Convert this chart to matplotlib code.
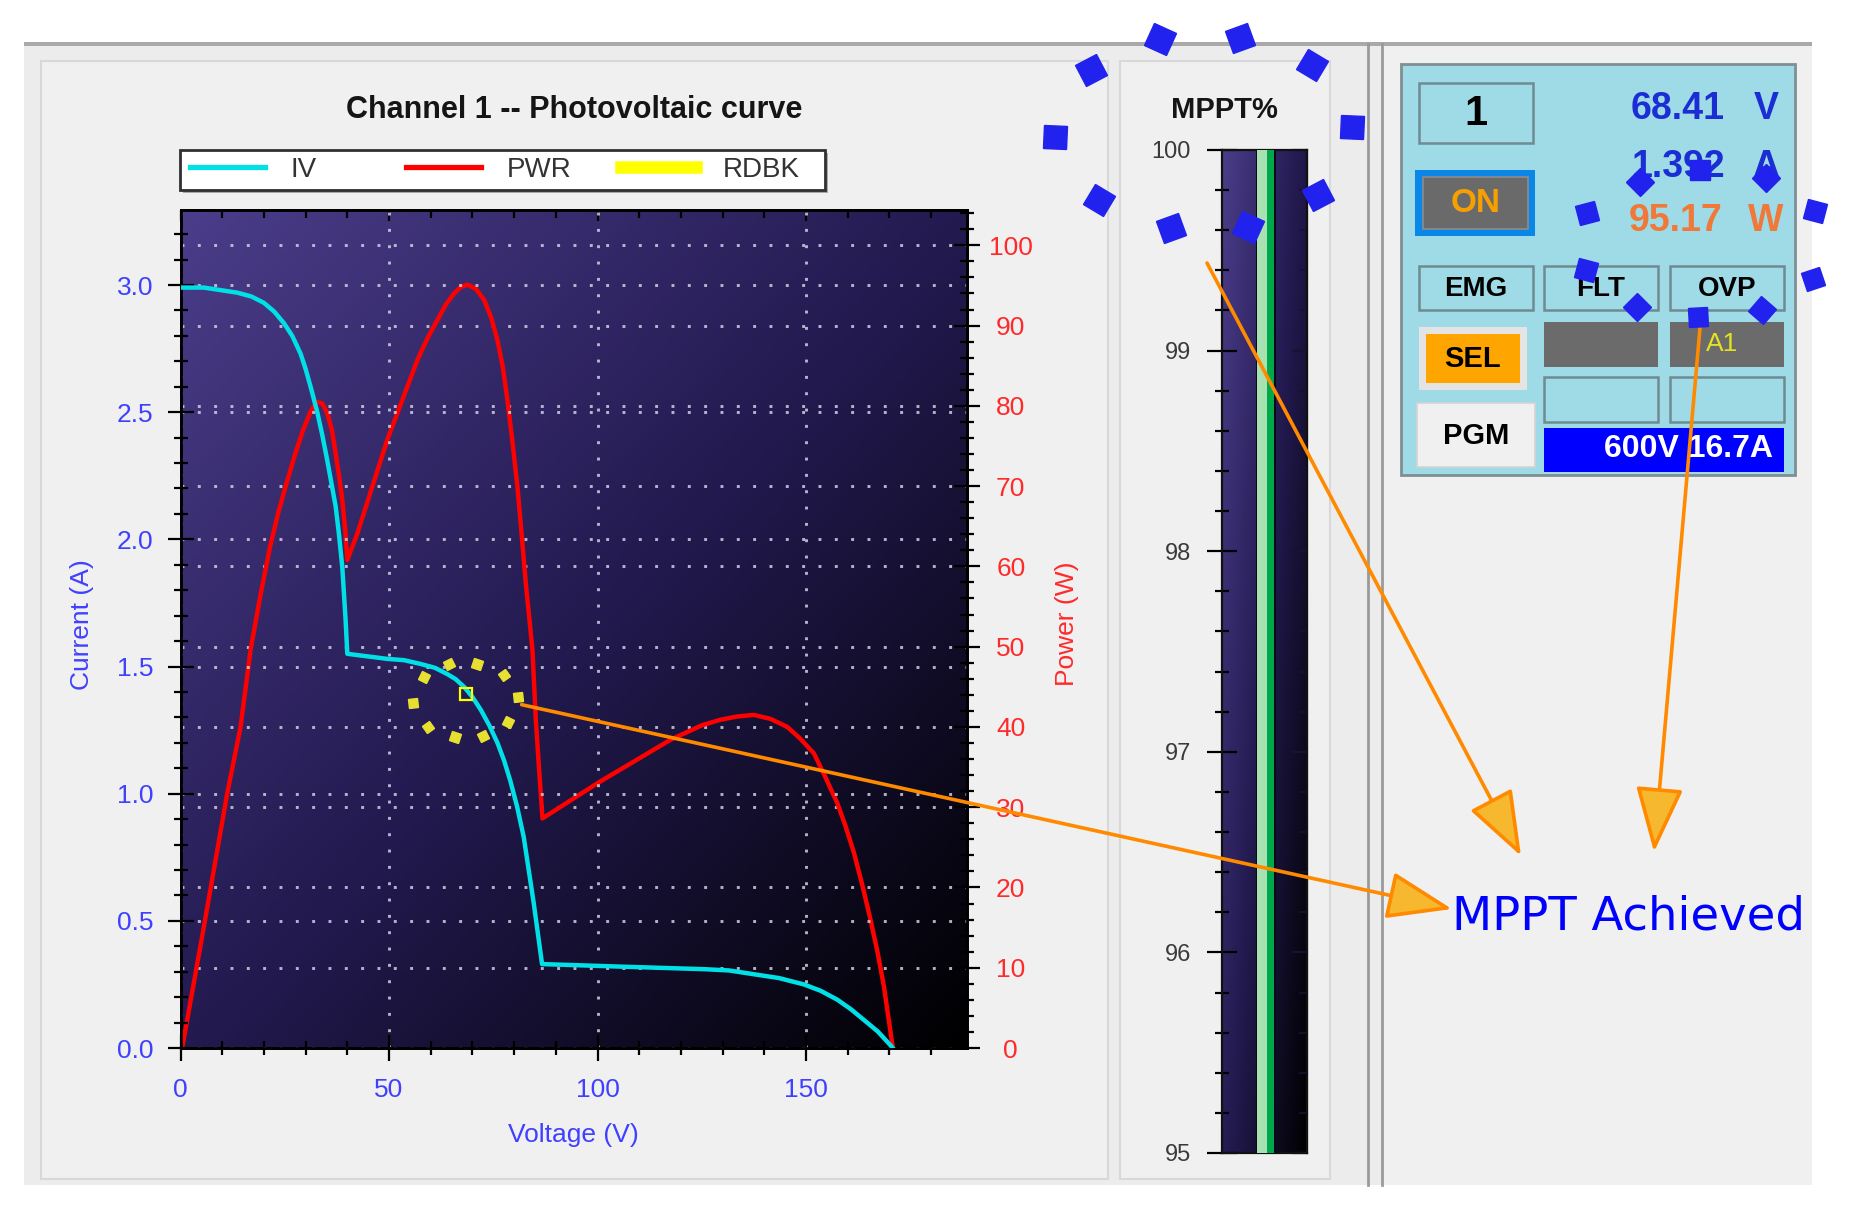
import numpy as np
import matplotlib
matplotlib.use("Agg")
import matplotlib.pyplot as plt
from matplotlib.colors import LinearSegmentedColormap
from matplotlib.lines import Line2D
from matplotlib.patches import Rectangle
from matplotlib.markers import MarkerStyle
from matplotlib.transforms import Affine2D
from matplotlib.ticker import MultipleLocator, FormatStrFormatter

plt.rcParams['font.family'] = ['Liberation Sans', 'DejaVu Sans']

W, H = 1855, 1222

# values
iv_v = [0, 5.6, 13.6, 17.0, 20.0, 22.5, 24.8, 26.8, 28.8, 30.0, 31.2, 32.8, 34.0,
        35.2, 36.2, 37.2, 38.0, 38.8, 39.6, 40.0,
        49.6, 53.6, 57.6, 61.0, 64.0, 66.0, 68.0, 70.0, 72.0, 74.0, 76.0, 77.6,
        79.1, 80.7, 82.3, 83.5, 84.7, 85.7, 86.7,
        105.5, 125.5, 131.5, 137.5, 143.5, 149.5, 153.5, 157.5, 160.8, 163.9,
        167.2, 170.3, 170.8]
iv_i = [2.99, 2.99, 2.97, 2.955, 2.93, 2.895, 2.85, 2.80, 2.73, 2.67, 2.60, 2.50, 2.41,
        2.31, 2.22, 2.13, 2.02, 1.89, 1.68, 1.55,
        1.53, 1.525, 1.51, 1.495, 1.47, 1.45, 1.42, 1.38, 1.33, 1.27, 1.20, 1.13,
        1.05, 0.95, 0.83, 0.70, 0.57, 0.45, 0.33,
        0.32, 0.31, 0.305, 0.29, 0.275, 0.25, 0.225, 0.19, 0.152, 0.11,
        0.065, 0.01, 0.0]

pwr_v = [0.4, 5.6, 11.2, 14.4, 16.8, 19.2, 21.5, 23.5, 25.5, 27.5, 29.4, 31.2, 32.7,
         34.0, 35.2, 36.3, 37.2, 38.1, 38.8, 39.5, 40.0,
         42.4, 49.6, 56.8, 59.2, 61.6, 63.6, 65.6, 67.2, 68.8, 70.8, 72.8, 74.5,
         76.0, 77.3, 78.4, 79.6, 80.8, 81.8, 82.8, 84.4, 85.2, 86.0, 86.8,
         100.0, 117.5, 125.0, 129.5, 133.5, 137.5, 141.5, 145.5, 148.5, 151.9,
         154.5, 157.5, 159.5, 161.5, 163.5, 165.5, 167.2, 168.7, 170.7]
pwr_p = [0, 15.1, 31.7, 40.0, 49.6, 56.5, 62.5, 66.8, 70.5, 74.0, 77.0, 79.3, 80.5,
         80.3, 79.1, 77.0, 74.1, 71.0, 68.3, 64.5, 60.8,
         64.1, 75.8, 85.7, 88.4, 90.7, 92.6, 94.0, 94.8, 95.1, 94.6, 93.2, 91.0,
         88.2, 84.8, 80.7, 75.5, 69.9, 64.0, 57.9, 49.6, 40.9, 34.6, 28.6,
         33.0, 38.4, 40.2, 40.9, 41.3, 41.5, 41.0, 40.0, 38.6, 36.7,
         33.9, 30.5, 27.6, 24.3, 20.3, 15.9, 11.8, 7.6, 0.4]

rdbk_v, rdbk_i = 68.41, 1.392
readout_volts, readout_amps, readout_watts = "68.41", "1.392", "95.17"
mppt_pct = 100.0

# highlight ring around the readback point (volts, amps)
ring_v = [58.4, 64.4, 71.2, 77.6, 81.0, 78.6, 72.6, 65.8, 59.4, 55.7]
ring_i = [1.458, 1.51, 1.51, 1.467, 1.379, 1.283, 1.227, 1.222, 1.261, 1.355]

# blue highlight rings drawn over the screenshot (pixel positions)
mppt_ring = [(1091, 70), (1160, 39), (1240, 38), (1312, 65), (1352, 127),
             (1318, 195), (1248, 227), (1171, 228), (1099, 200), (1055, 137)]
readout_ring = [(1640, 182), (1700, 170), (1766, 178), (1815, 211), (1813, 279),
                (1762, 310), (1698, 317), (1637, 307), (1586, 270), (1587, 213)]

BLUE_TXT = '#4040ff'
RED_TXT = '#ff2a2a'
ORANGE = '#ff8a00'

fig = plt.figure(figsize=(W / 100, H / 100), dpi=100, facecolor='white')


def frac(x0, y0, x1, y1):
    return [x0 / W, 1 - y1 / H, (x1 - x0) / W, (y1 - y0) / H]


def box(ax, x0, y0, x1, y1, fc, ec='none', lw=0):
    ax.add_patch(Rectangle((x0, y0), x1 - x0, y1 - y0, facecolor=fc,
                           edgecolor=ec, linewidth=lw))


# background panels
bg = fig.add_axes([0, 0, 1, 1], zorder=-10)
bg.set_xlim(0, W)
bg.set_ylim(H, 0)
bg.axis('off')
box(bg, 24, 44, 1812, 1185, '#ececec')
box(bg, 24, 42, 1812, 46, '#a9a9a9')
box(bg, 41, 61, 1108, 1179, '#f0f0f0', '#d8d8d8', 1.5)
box(bg, 1120, 61, 1330, 1179, '#f0f0f0', '#d8d8d8', 1.5)
box(bg, 1382, 46, 1812, 1185, '#f0f0f0')
bg.plot([1368, 1368], [44, 1185], color='#9a9a9a', lw=2)
bg.plot([1382, 1382], [44, 1185], color='#9a9a9a', lw=2)

# right-hand instrument panel
box(bg, 1401, 64, 1795, 475, '#9fdbe6', '#7f8f93', 2)
box(bg, 1419, 83, 1533, 143, '#9fdbe6', '#6f8a90', 1.8)
box(bg, 1415, 170, 1535, 236, '#0a86e6')
box(bg, 1423, 177, 1528, 229, '#6a6a6a', '#8c8c8c', 1.2)
for x0 in (1419, 1544, 1670):
    box(bg, x0, 266, x0 + 114, 310, '#9fdbe6', '#6f8a90', 1.8)
box(bg, 1419, 327, 1527, 390, '#e4e4e4')
box(bg, 1426, 334, 1520, 383, '#ffa500')
for x0 in (1544, 1670):
    box(bg, x0, 322, x0 + 114, 367, '#6b6b6b')
    box(bg, x0, 377, x0 + 114, 422, '#9fdbe6', '#6f8a90', 1.8)
box(bg, 1417, 403, 1535, 467, '#f0f0f0', '#d4d4d4', 1.2)
box(bg, 1544, 428, 1784, 472, '#0000ff')

bg.text(1476, 114, '1', fontsize=30, fontweight='bold', ha='center', va='center')
bg.text(1476, 204, 'ON', fontsize=24, fontweight='bold', color='#f5a000', ha='center', va='center')
bg.text(1725, 109, readout_volts, fontsize=27, fontweight='bold', color='#1a2ed4', ha='right', va='center')
bg.text(1766, 109, 'V', fontsize=27, fontweight='bold', color='#1a2ed4', ha='center', va='center')
bg.text(1725, 167, readout_amps, fontsize=27, fontweight='bold', color='#1a2ed4', ha='right', va='center')
bg.text(1766, 167, 'A', fontsize=27, fontweight='bold', color='#1a2ed4', ha='center', va='center')
bg.text(1723, 221, readout_watts, fontsize=27, fontweight='bold', color='#f07838', ha='right', va='center')
bg.text(1766, 221, 'W', fontsize=27, fontweight='bold', color='#f07838', ha='center', va='center')
for x0, lab in zip((1419, 1544, 1670), ('EMG', 'FLT', 'OVP')):
    bg.text(x0 + 57, 289, lab, fontsize=20, fontweight='bold', ha='center', va='center')
bg.text(1473, 359, 'SEL', fontsize=21, fontweight='bold', ha='center', va='center')
bg.text(1476, 436, 'PGM', fontsize=21, fontweight='bold', ha='center', va='center')
bg.text(1722, 344, 'A1', fontsize=19, color='#e2e220', ha='center', va='center')
bg.text(1773, 449, '600V 16.7A', fontsize=23, fontweight='bold', color='white', ha='right', va='center')

# main photovoltaic plot
cmap = LinearSegmentedColormap.from_list('pv', ['#4b3d8a', '#231a50', '#000000'])
ax1 = fig.add_axes(frac(180.5, 210, 967, 1048))
ax2 = ax1.twinx()
ax1.set_zorder(2)
ax2.set_zorder(1)
ax1.patch.set_visible(False)

xmax, imax, pmax = 188.6, 3.295, 104.4
yy, xx = np.mgrid[0:1:300j, 0:1:300j]
ax2.imshow((xx + yy) / 2, cmap=cmap, extent=(0, xmax, 0, pmax), aspect='auto',
           origin='upper', zorder=0)

grid_kw = dict(color='#d0d0e2', linestyle=(0, (1, 4.6)), linewidth=2.1, alpha=0.85)
ax2.plot(pwr_v, pwr_p, color='#ff0000', lw=3.2, zorder=3, solid_joinstyle='round')
ax1.plot(iv_v, iv_i, color='#00e0e6', lw=3.2, zorder=3, solid_joinstyle='round')
ax1.plot([rdbk_v], [rdbk_i], marker='s', ms=9, mfc='none', mec='#ffff00', mew=1.6, zorder=4)

for a in (ax1, ax2):
    for s in a.spines.values():
        s.set_color('black')
        s.set_linewidth(2)

ax1.set_xlim(0, xmax)
ax1.set_ylim(0, imax)
ax2.set_ylim(0, pmax)
ax1.xaxis.set_major_locator(MultipleLocator(50))
ax1.xaxis.set_minor_locator(MultipleLocator(10))
ax1.yaxis.set_major_locator(MultipleLocator(0.5))
ax1.yaxis.set_minor_locator(MultipleLocator(0.1))
ax1.yaxis.set_major_formatter(FormatStrFormatter('%.1f'))
ax2.yaxis.set_major_locator(MultipleLocator(10))
ax2.yaxis.set_minor_locator(MultipleLocator(2))

ax1.grid(True, which='major', **grid_kw)
ax2.grid(True, axis='y', which='major', **grid_kw)

ax1.tick_params(which='major', direction='inout', length=19, width=1.6, labelsize=19)
ax1.tick_params(which='minor', direction='inout', length=10, width=1.6)
ax1.tick_params(axis='x', labelcolor=BLUE_TXT, pad=12)
ax1.tick_params(axis='y', which='both', labelcolor=BLUE_TXT, pad=10, right=False)
ax2.tick_params(which='major', direction='inout', length=19, width=1.6,
                labelsize=19, labelcolor=RED_TXT, pad=22)
ax2.tick_params(which='minor', direction='inout', length=10, width=1.6)
plt.setp(ax2.get_yticklabels(), ha='center')

top = ax1.secondary_xaxis('top')
top.xaxis.set_major_locator(MultipleLocator(50))
top.xaxis.set_minor_locator(MultipleLocator(10))
top.tick_params(which='major', direction='in', length=8, width=1.6, labeltop=False)
top.tick_params(which='minor', direction='in', length=6, width=1.6)
top.spines['top'].set_linewidth(2)

# legend: framed box with three evenly spaced entries
box(bg, 183, 153, 827.5, 193, '#a8a8a8')
box(bg, 180, 150, 824.5, 190, 'white', '#303030', 2)
legend_handles = [Line2D([], [], color='#00e0e6', lw=3.8),
                  Line2D([], [], color='#ff0000', lw=3.8),
                  Line2D([], [], color='#ffff00', lw=9)]
legend_labels = ['IV', 'PWR', 'RDBK']
for x_start, h, lab in zip((189.5, 405.6, 621.0), legend_handles, legend_labels):
    fig.legend([h], [lab], loc='center left', bbox_to_anchor=(x_start / W, 1 - 170 / H),
               frameon=False, fontsize=20, labelcolor='#333333', handlelength=2.7,
               handletextpad=0.95, borderpad=0, borderaxespad=0)

bg.text(574, 110, 'Channel 1 -- Photovoltaic curve', fontsize=22, fontweight='bold',
        color='#151515', ha='center', va='center')
bg.text(82, 625, 'Current (A)', fontsize=19, color=BLUE_TXT, rotation=90, ha='center', va='center')
bg.text(1067, 624, 'Power (W)', fontsize=19, color=RED_TXT, rotation=90, ha='center', va='center')
bg.text(573, 1135, 'Voltage (V)', fontsize=19, color=BLUE_TXT, ha='center', va='center')

# MPPT% bar gauge
ax3 = fig.add_axes(frac(1222, 150, 1307, 1153))
ax3.set_xlim(0, 1)
ax3.set_ylim(95, 100)
ax3.imshow(0.55 * xx + 0.45 * yy, cmap=cmap, extent=(0, 1, 95, 100), aspect='auto', origin='upper')
ax3.bar(0.40, mppt_pct - 95, bottom=95, width=0.235, align='edge', color='#0b0818', zorder=2)
ax3.bar(0.41, mppt_pct - 95, bottom=95, width=0.20, align='edge', color='#00a84c', zorder=3)
ax3.bar(0.41, mppt_pct - 95, bottom=95, width=0.115, align='edge', color='#a8e2b2', zorder=4)
ax3.set_xticks([])
ax3.yaxis.set_major_locator(MultipleLocator(1))
ax3.yaxis.set_minor_locator(MultipleLocator(0.2))
ax3.yaxis.set_major_formatter(FormatStrFormatter('%d'))
ax3.tick_params(axis='y', which='major', direction='inout', length=21, width=1.6,
                labelsize=17, labelcolor='#3a3a3a', pad=12)
ax3.tick_params(axis='y', which='minor', direction='inout', length=9.5, width=1.6)
for s in ax3.spines.values():
    s.set_color('#111111')
    s.set_linewidth(1.6)
rgt = ax3.secondary_yaxis('right')
rgt.yaxis.set_major_locator(MultipleLocator(1))
rgt.yaxis.set_minor_locator(MultipleLocator(0.2))
rgt.tick_params(which='major', direction='in', length=11, width=1.6, color='#1a1030', labelright=False)
rgt.tick_params(which='minor', direction='in', length=6, width=1.2, color='#1a1030')
bg.text(1224, 110, 'MPPT%', fontsize=21, fontweight='bold', color='#151515', ha='center', va='center')

# overlay annotations
ov = fig.add_axes([0, 0, 1, 1], zorder=10)
ov.set_xlim(0, W)
ov.set_ylim(H, 0)
ov.axis('off')


def ring(ax, pts, size, color, transform=None):
    pts = np.asarray(pts, dtype=float)
    disp = pts if transform is None else transform.transform(pts)
    cx, cy = disp.mean(axis=0)
    for (x, y), (dx, dy) in zip(pts, disp):
        ang = np.degrees(np.arctan2(dy - cy, dx - cx))
        mk = MarkerStyle('s', transform=Affine2D().rotate_deg(ang))
        ax.plot([x], [y], marker=mk, ms=size, color=color, ls='none', zorder=6)


ring(ov, mppt_ring, 17, '#2222ee')
ring(ov, readout_ring, 14, '#2222ee')
ring(ax1, list(zip(ring_v, ring_i)), 6.5, '#e8e030', transform=ax1.transData)

arrow = dict(arrowstyle='-|>,head_length=2.05,head_width=0.75', mutation_scale=20,
             fc='#f5b82e', ec=ORANGE, lw=2.6, shrinkA=0, shrinkB=0)
ov.annotate('', xy=(1452, 909), xytext=(81.8, 1.35), textcoords=ax1.transData, arrowprops=arrow)
ov.annotate('', xy=(1521, 856), xytext=(1207, 263), arrowprops=arrow)
ov.annotate('', xy=(1654, 852), xytext=(1700, 328), arrowprops=arrow)

ov.text(1452, 917, 'MPPT Achieved', fontsize=33.5, color='#0000ff', family='DejaVu Sans',
        ha='left', va='center')

fig.savefig('out.png', dpi=100, facecolor='white')
